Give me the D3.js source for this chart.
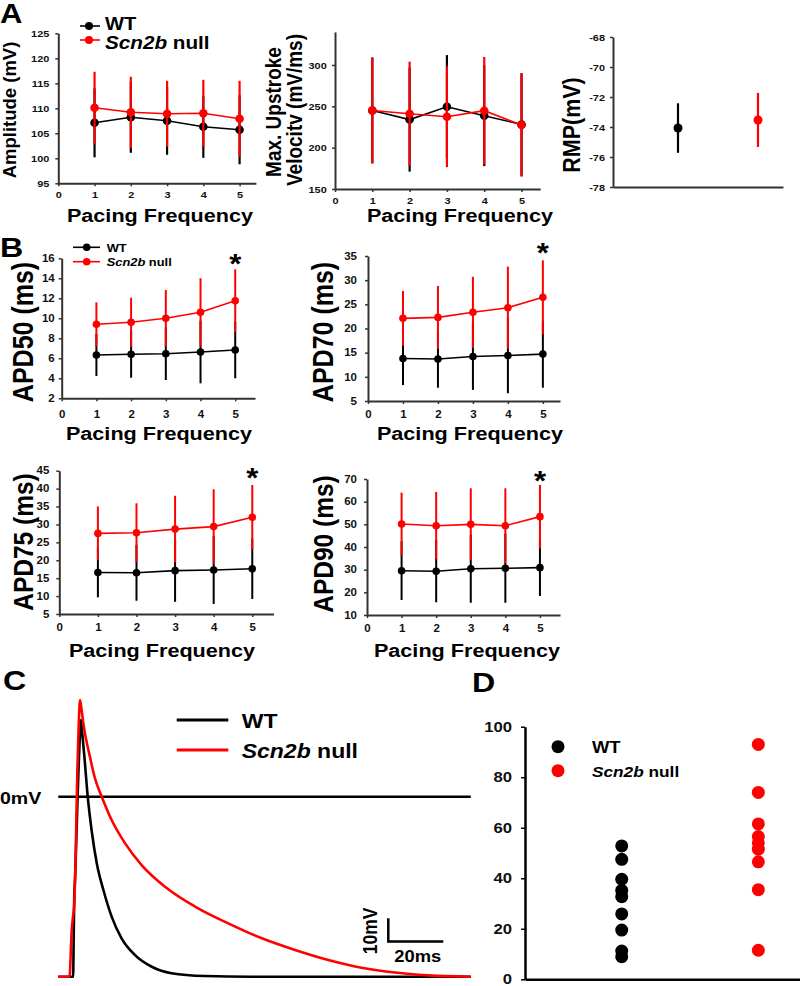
<!DOCTYPE html>
<html><head><meta charset="utf-8">
<script src="https://cdn.jsdelivr.net/npm/d3@7"></script>
<style>html,body{margin:0;padding:0;background:#fff;}svg{display:block;}</style>
</head><body>
<script>
// ---------------- DATA ----------------
const freq = [1, 2, 3, 4, 5];
const freqTicks = [0, 1, 2, 3, 4, 5];
const groups = ["WT", "Scn2b null"];

// Panel A
const ampWT = [107.1, 108.2, 107.5, 106.3, 105.7];
const ampWTsd = [6.9, 7.1, 6.8, 6.2, 6.9];
const ampKO = [110.1, 109.2, 108.9, 109.0, 107.9];
const ampKOsd = [7.2, 7.1, 6.6, 6.7, 7.6];
const ampTicks = [95, 100, 105, 110, 115, 120, 125];

const velWT = [245, 234, 249.5, 238.7, 228];
const velWTsd = [64, 63, 62.5, 61, 62];
const velKO = [245, 241, 237.4, 244.7, 227.4];
const velKOsd = [64, 63, 61, 65, 62.5];
const velTicks = [150, 200, 250, 300];

const rmpMean = [-74.07, -73.53];
const rmpSd = [1.65, 1.8];
const rmpTicks = [-78, -76, -74, -72, -70, -68];

// Panel B
const apd50WT = [6.33, 6.4, 6.46, 6.63, 6.83];
const apd50WTsd = [2.1, 2.34, 2.63, 3.13, 2.83];
const apd50KO = [9.4, 9.6, 10.0, 10.6, 11.76];
const apd50KOsd = [2.2, 2.46, 2.83, 3.4, 3.14];
const apd50Ticks = [2, 4, 6, 8, 10, 12, 14, 16];

const apd70WT = [13.8, 13.7, 14.2, 14.4, 14.7];
const apd70WTsd = [5.5, 5.95, 6.9, 7.8, 6.95];
const apd70KO = [22.1, 22.3, 23.35, 24.3, 26.45];
const apd70KOsd = [5.65, 6.5, 7.35, 8.5, 7.65];
const apd70Ticks = [5, 10, 15, 20, 25, 30, 35];

const apd75WT = [16.6, 16.5, 17.1, 17.3, 17.65];
const apd75WTsd = [6.95, 7.8, 8.7, 9.5, 8.45];
const apd75KO = [27.5, 27.7, 28.7, 29.4, 32.0];
const apd75KOsd = [7.5, 8.2, 9.3, 10.4, 9.0];
const apd75Ticks = [5, 10, 15, 20, 25, 30, 35, 40, 45];

const apd90WT = [29.55, 29.3, 30.4, 30.6, 30.9];
const apd90WTsd = [12.95, 13.7, 15.0, 15.2, 12.5];
const apd90KO = [50.15, 49.4, 50.0, 49.4, 53.4];
const apd90KOsd = [13.85, 14.9, 15.9, 16.5, 14.0];
const apd90Ticks = [10, 20, 30, 40, 50, 60, 70];

// Panel C  (time ms, membrane potential mV)
const traceWT = [[0,-77.2],[5.4,-77.2],[5.6,-60],[5.8,-43],[6.1,-35],[6.4,-24],[6.9,-5],[7.3,10],[7.8,25],[8.25,32.9],[8.8,26],[9.5,17],[10.7,0],[12.1,-14.3],[14.0,-28.6],[16.4,-40],[19.4,-51.4],[23.0,-60.7],[27.9,-67.9],[34.0,-72.9],[41.2,-75.7],[53.3,-76.9],[70,-77.2],[150,-77.2]];
const traceKO = [[0,-77.2],[4.1,-77.2],[4.6,-65],[4.9,-57],[5.3,-52],[5.8,-46],[6.3,-26],[6.9,10],[7.4,30],[7.9,41.4],[8.5,37],[9.1,31.4],[11.5,17.1],[13.3,8],[15.8,0],[19.4,-10],[24.3,-20],[30.3,-29.3],[38.8,-38.6],[49.7,-47.1],[61.8,-54.3],[74.0,-60.7],[86.1,-65.7],[98.2,-70],[110.3,-73.3],[122.4,-75.4],[134.5,-76.6],[150,-77.2]];
const scaleBar = {t: 120, v: -62.1, dt: 20, dv: 10};

// Panel D
const dWT = [52.8, 47.5, 39.6, 35.2, 32.7, 25.9, 19.5, 11.2, 8.95];
const dKO = [93, 74, 61.5, 56.5, 54, 51.5, 46.5, 35.5, 11.5];
const dTicks = [0, 20, 40, 60, 80, 100];

// ---------------- DRAWING ----------------
const FONT = "'Liberation Sans', Arial, Helvetica, sans-serif";
const SX = 1.15;
const RED = "#f00", BLK = "#000", AX = "#333";
const KO_LABEL = [["Scn2b", true], ["\u00a0null", false]];

const svg = d3.select("body").append("svg").attr("width", 800).attr("height", 986)
  .attr("viewBox", "0 0 800 986");
svg.append("rect").attr("width", 800).attr("height", 986).attr("fill", "#fff");

function label(g, x, y, str, size, opt = {}) {
  const sx = opt.sx ?? SX;
  const t = g.append("text")
    .attr("transform", `translate(${x},${y}) scale(${sx},1)` + (opt.rot ? ` rotate(${opt.rot})` : ""))
    .attr("text-anchor", opt.anchor || "middle")
    .attr("font-family", FONT).attr("font-weight", "bold")
    .attr("font-size", size).attr("fill", opt.fill || "#000");
  if (Array.isArray(str)) str.forEach(([s, it]) => t.append("tspan").attr("font-style", it ? "italic" : "normal").text(s));
  else t.text(str);
  return t;
}

function styleAxis(g, fs, color, width) {
  g.select(".domain").attr("stroke", color).attr("stroke-width", width);
  g.selectAll(".tick line").attr("stroke", color).attr("stroke-width", 1.5);
  g.selectAll(".tick text").attr("font-size", fs).attr("font-weight", "bold")
    .attr("font-family", FONT).attr("fill", "#111").attr("transform", `scale(${SX},1)`);
}

function yAxis(scale, x, ticks, fs, gap, color = AX, width = 2, tsize = 3) {
  const g = svg.append("g").attr("transform", `translate(${x},0)`)
    .call(d3.axisLeft(scale).tickValues(ticks).tickSize(tsize).tickSizeOuter(0)
      .tickPadding(gap / SX - tsize).tickFormat(d => String(d)));
  g.attr("font-family", null).attr("font-size", null);
  styleAxis(g, fs, color, width);
  return g;
}
function xAxis(scale, y, ticks, fs, pad, color = AX, width = 2) {
  const g = svg.append("g").attr("transform", `translate(0,${y})`)
    .call(d3.axisBottom(scale).tickValues(ticks).tickSize(ticks.length ? 3 : 0).tickSizeOuter(0)
      .tickPadding(pad).tickFormat(d => String(d)));
  g.attr("font-family", null).attr("font-size", null);
  styleAxis(g, fs, color, width);
  return g;
}

function lineChart(o) {
  const x = d3.scaleLinear().domain([0, o.xMax]).range(o.xRange);
  const y = d3.scaleLinear().domain(o.yDomain).range(o.yRange);
  yAxis(y, o.xRange[0], o.yTicks, o.fs, o.yGap);
  xAxis(x, o.yRange[0], freqTicks, o.fs, o.xPad);
  const g = svg.append("g");
  o.series.forEach(s => {
    const pts = freq.map((f, i) => ({f, m: s.m[i], e: s.sd[i]}));
    g.append("g").selectAll("line").data(pts).join("line")
      .attr("x1", d => x(d.f)).attr("x2", d => x(d.f))
      .attr("y1", d => y(d.m - d.e)).attr("y2", d => y(d.m + d.e))
      .attr("stroke", s.color).attr("stroke-width", o.ew);
    g.append("path").datum(pts)
      .attr("d", d3.line().x(d => x(d.f)).y(d => y(d.m)))
      .attr("fill", "none").attr("stroke", s.color).attr("stroke-width", o.lw);
    g.append("g").selectAll("circle").data(pts).join("circle")
      .attr("cx", d => x(d.f)).attr("cy", d => y(d.m)).attr("r", o.r).attr("fill", s.color);
  });
  return {x, y};
}

// ---- Panel A ----
label(svg, 0, 23, "A", 27, {anchor: "start"});
lineChart({xMax: 5.45, xRange: [58.3, 255.9], yDomain: [95, 125], yRange: [183.3, 33.3], yTicks: ampTicks,
  fs: 9.5, yGap: 9, xPad: 5.3, ew: 2.2, lw: 1.6, r: 4.3,
  series: [{m: ampWT, sd: ampWTsd, color: BLK}, {m: ampKO, sd: ampKOsd, color: RED}]});
label(svg, 16, 110, "Amplitude (mV)", 18.5, {rot: -90, sx: 1.0});
label(svg, 160, 222, "Pacing Frequency", 18.8);
// legend A
[[BLK, 26, "WT"], [RED, 40, KO_LABEL]].forEach(([c, yy, t]) => {
  svg.append("line").attr("x1", 80).attr("x2", 100).attr("y1", yy).attr("y2", yy).attr("stroke", c).attr("stroke-width", 1.6);
  svg.append("circle").attr("cx", 89).attr("cy", yy).attr("r", 4).attr("fill", c);
});
label(svg, 105, 30, "WT", 17.5, {anchor: "start"});
label(svg, 105, 48.5, KO_LABEL, 18, {anchor: "start"});

lineChart({xMax: 5.5, xRange: [335, 540.2], yDomain: [150, 340], yRange: [189, 31.9], yTicks: velTicks,
  fs: 9.5, yGap: 8.3, xPad: 5.3, ew: 2.2, lw: 1.6, r: 4.3,
  series: [{m: velWT, sd: velWTsd, color: BLK}, {m: velKO, sd: velKOsd, color: RED}]});
label(svg, 281, 112, "Max. Upstroke", 19, {rot: -90});
label(svg, 302, 110, "Velocitv (mV/ms)", 19, {rot: -90});
label(svg, 460, 222, "Pacing Frequency", 18.8);

// RMP
{
  const x = d3.scaleLinear().domain([-0.8125, 1.3125]).range([613, 783]);
  const y = d3.scaleLinear().domain([-78, -68]).range([187, 37]);
  yAxis(y, 613, rmpTicks, 9.5, 8);
  xAxis(x, 187, [], 9.5, 0);
  groups.forEach((gname, i) => {
    const c = i ? RED : BLK;
    svg.append("line").attr("x1", x(i)).attr("x2", x(i))
      .attr("y1", y(rmpMean[i] - rmpSd[i])).attr("y2", y(rmpMean[i] + rmpSd[i]))
      .attr("stroke", c).attr("stroke-width", 2.2);
    svg.append("circle").attr("cx", x(i)).attr("cy", y(rmpMean[i])).attr("r", 4.5).attr("fill", c);
  });
  label(svg, 580, 125, "RMP(mV)", 21.5, {rot: -90});
}

// ---- Panel B ----
label(svg, 0, 257, "B", 28, {anchor: "start"});
const bCommon = {fs: 10, ew: 2, lw: 1.6, r: 3.8};
const p50 = lineChart(Object.assign({xMax: 5.57, xRange: [61.7, 255], yDomain: [2, 16], yRange: [398.3, 258.3], yTicks: apd50Ticks,
  yGap: 7, xPad: 10,
  series: [{m: apd50WT, sd: apd50WTsd, color: BLK}, {m: apd50KO, sd: apd50KOsd, color: RED}]}, bCommon));
label(svg, 33, 332, "APD50 (ms)", 25, {rot: -90});
label(svg, 159, 440, "Pacing Frequency", 18.8);
label(svg, p50.x(5), p50.y(16) + 15, "*", 27);
// legend B
[[BLK, 247.3], [RED, 261.7]].forEach(([c, yy]) => {
  svg.append("line").attr("x1", 73).attr("x2", 100).attr("y1", yy).attr("y2", yy).attr("stroke", c).attr("stroke-width", 1.6);
  svg.append("circle").attr("cx", 86.7).attr("cy", yy).attr("r", 3.8).attr("fill", c);
});
label(svg, 106.7, 251.6, "WT", 11.2, {anchor: "start"});
label(svg, 106.7, 266, KO_LABEL, 11.2, {anchor: "start"});

const p70 = lineChart(Object.assign({xMax: 5.49, xRange: [368, 560], yDomain: [5, 35], yRange: [401, 256], yTicks: apd70Ticks,
  yGap: 11, xPad: 7.2,
  series: [{m: apd70WT, sd: apd70WTsd, color: BLK}, {m: apd70KO, sd: apd70KOsd, color: RED}]}, bCommon));
label(svg, 333, 332, "APD70 (ms)", 25, {rot: -90});
label(svg, 470, 440, "Pacing Frequency", 18.8);
label(svg, p70.x(5), p70.y(36.9) + 15, "*", 27);

const p75 = lineChart(Object.assign({xMax: 5.55, xRange: [59.3, 273.5], yDomain: [5, 45], yRange: [614, 470.7], yTicks: apd75Ticks,
  yGap: 10, xPad: 7.2,
  series: [{m: apd75WT, sd: apd75WTsd, color: BLK}, {m: apd75KO, sd: apd75KOsd, color: RED}]}, bCommon));
label(svg, 33, 542, "APD75 (ms)", 24.5, {rot: -90});
label(svg, 162, 657, "Pacing Frequency", 18.8);
label(svg, p75.x(5), p75.y(44.7) + 15, "*", 27);

const p90 = lineChart(Object.assign({xMax: 5.58, xRange: [367, 560], yDomain: [10, 70], yRange: [615, 479], yTicks: apd90Ticks,
  yGap: 10, xPad: 6.5,
  series: [{m: apd90WT, sd: apd90WTsd, color: BLK}, {m: apd90KO, sd: apd90KOsd, color: RED}]}, bCommon));
label(svg, 333, 544, "APD90 (ms)", 24.5, {rot: -90});
label(svg, 467, 657, "Pacing Frequency", 18.8);
label(svg, p90.x(5), p90.y(71.8) + 15, "*", 27);

// ---- Panel C ----
label(svg, 3, 690, "C", 28, {anchor: "start"});
{
  const xC = d3.scaleLinear().domain([0, 150]).range([58.3, 470.8]);
  const yC = d3.scaleLinear().domain([-80, 45]).range([983.3, 691.7]);
  svg.append("line").attr("x1", xC(0)).attr("x2", xC(150)).attr("y1", yC(0)).attr("y2", yC(0))
    .attr("stroke", BLK).attr("stroke-width", 2.5);
  const ln = d3.line().x(d => xC(d[0])).y(d => yC(d[1])).curve(d3.curveMonotoneX);
  svg.append("path").attr("d", ln(traceWT)).attr("fill", "none").attr("stroke", BLK).attr("stroke-width", 2.6);
  svg.append("path").attr("d", ln(traceKO)).attr("fill", "none").attr("stroke", RED).attr("stroke-width", 2.6);
  label(svg, 0, 804, "0mV", 17, {anchor: "start"});
  // scale bar
  const sb = d3.path();
  sb.moveTo(xC(scaleBar.t), yC(scaleBar.v + scaleBar.dv));
  sb.lineTo(xC(scaleBar.t), yC(scaleBar.v));
  sb.lineTo(xC(scaleBar.t + scaleBar.dt), yC(scaleBar.v));
  svg.append("path").attr("d", sb.toString()).attr("fill", "none").attr("stroke", BLK).attr("stroke-width", 2.5);
  label(svg, xC(scaleBar.t) - 11.5, yC(scaleBar.v + scaleBar.dv / 2) + 1, "10mV", 17.5, {rot: -90});
  label(svg, xC(scaleBar.t + scaleBar.dt / 2) + 2, yC(scaleBar.v) + 20.5, "20ms", 16);
  // legend C
  [[BLK, 720], [RED, 750]].forEach(([c, yy]) => {
    svg.append("line").attr("x1", 176.7).attr("x2", 228.3).attr("y1", yy).attr("y2", yy).attr("stroke", c).attr("stroke-width", 2.8);
  });
  label(svg, 241.7, 727.5, "WT", 20, {anchor: "start"});
  label(svg, 241.7, 757.5, KO_LABEL, 20, {anchor: "start"});
}

// ---- Panel D ----
label(svg, 472, 692, "D", 28, {anchor: "start"});
{
  const x = d3.scaleLinear().domain([-0.708, 1.305]).range([525, 800]);
  const y = d3.scaleLinear().domain([0, 100]).range([979.3, 726.7]);
  yAxis(y, 525, dTicks, 14.5, 13, BLK, 2.5, 4);
  xAxis(x, 979.3, [], 14, 0, BLK, 2.5);
  [[dWT, BLK, 0], [dKO, RED, 1]].forEach(([vals, c, i]) => {
    svg.append("g").selectAll("circle").data(vals).join("circle")
      .attr("cx", x(i)).attr("cy", d => y(d)).attr("r", 6.5).attr("fill", c);
  });
  svg.append("circle").attr("cx", 558).attr("cy", 746.7).attr("r", 6.5).attr("fill", BLK);
  svg.append("circle").attr("cx", 558).attr("cy", 770.7).attr("r", 6.5).attr("fill", RED);
  label(svg, 592, 752.5, "WT", 16, {anchor: "start"});
  label(svg, 592, 776.5, KO_LABEL, 15, {anchor: "start"});
}
</script>
</body></html>
